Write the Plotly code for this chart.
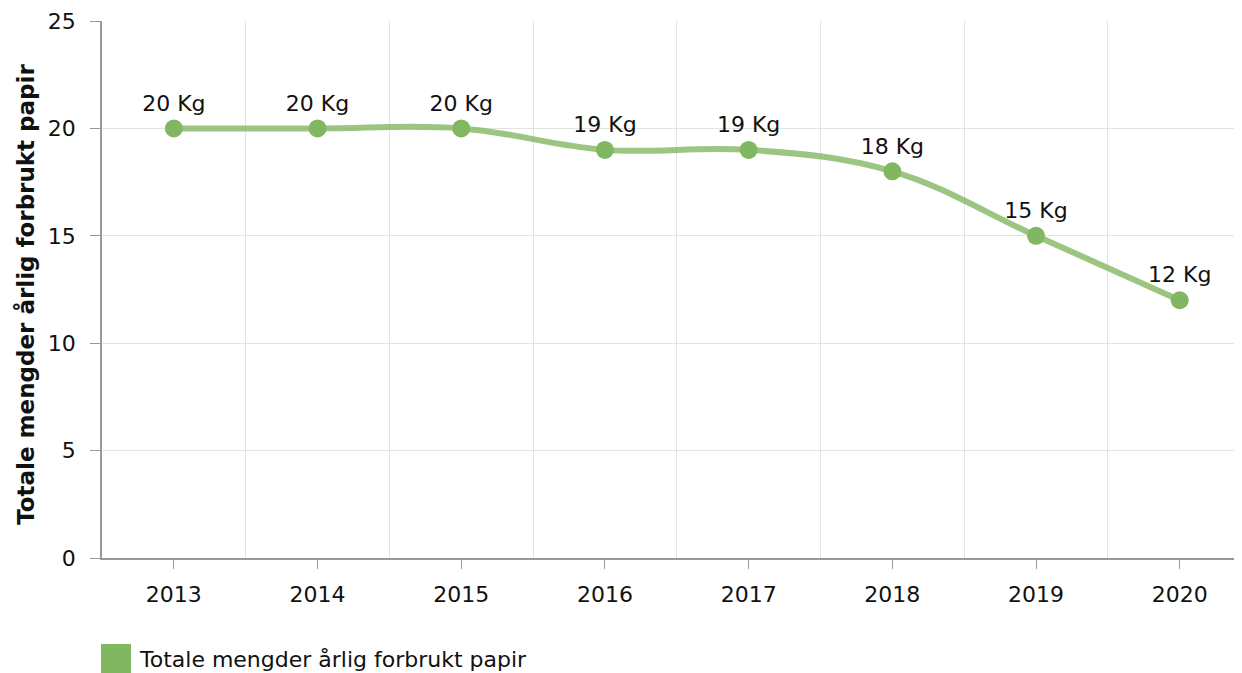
import plotly.graph_objects as go

# Data
years = ["2013", "2014", "2015", "2016", "2017", "2018", "2019", "2020"]
paper_kg = [20, 20, 20, 19, 19, 18, 15, 12]
labels = [f"{v} Kg" for v in paper_kg]
series_name = "Totale mengder årlig forbrukt papir"

x_pos = list(range(len(years)))
font = "DejaVu Sans, Verdana, sans-serif"

# page shows the figure with an 8px body offset, so layout px = picture px - 8
plot_top, plot_bottom = 13, 550
plot_h = plot_bottom - plot_top

fig = go.Figure()
fig.add_trace(go.Scatter(
    x=x_pos, y=paper_kg, text=labels,
    mode="lines+markers+text", textposition="top center",
    textfont=dict(size=22, color="#111111", family=font),
    line=dict(color="rgba(130,183,97,0.8)", width=6, shape="spline", smoothing=1.1),
    marker=dict(color="#82b761", size=18),
    showlegend=False, cliponaxis=False,
))

fig.update_layout(
    width=1242, height=673,
    margin=dict(l=94, r=0, t=plot_top, b=673 - plot_bottom),
    plot_bgcolor="white", paper_bgcolor="white",
    font=dict(family=font, size=22, color="#111111"),
    xaxis=dict(
        range=[-0.5, 7.489], tickvals=x_pos, ticktext=years,
        showgrid=False, ticks="outside", ticklen=9, tickcolor="#999999",
        ticklabelstandoff=7,
        showline=True, linecolor="#999999", linewidth=1.5,
        minor=dict(tickvals=[i + 0.5 for i in x_pos], showgrid=True,
                   gridcolor="#e3e3e3", gridwidth=1.2),
        zeroline=False, fixedrange=True,
    ),
    yaxis=dict(
        range=[0, 25], dtick=5, showgrid=True, gridcolor="#e3e3e3", gridwidth=1.2,
        ticks="outside", ticklen=10, tickcolor="#999999",
        ticklabelstandoff=10,
        showline=True, linecolor="#999999", linewidth=1.5,
        zeroline=False, fixedrange=True,
    ),
    annotations=[
        dict(text="<b>Totale mengder årlig forbrukt papir</b>", textangle=-90,
             xref="paper", yref="paper", x=(18 - 94) / 1148, y=0.49,
             xanchor="center", yanchor="middle", showarrow=False,
             font=dict(size=23, family=font)),
        dict(text=series_name, xref="paper", yref="paper",
             x=(129 - 94) / 1148, y=-(651 - plot_bottom) / plot_h,
             xanchor="left", yanchor="middle", showarrow=False,
             font=dict(size=22, family=font)),
    ],
    shapes=[
        dict(type="rect", xref="paper", yref="paper",
             x0=-1 / 1148, x1=29 / 1148,
             y0=-(636 - plot_bottom) / plot_h, y1=-(665 - plot_bottom) / plot_h,
             fillcolor="#82b761", line=dict(width=0)),
    ],
)

fig.write_html("out.html")
